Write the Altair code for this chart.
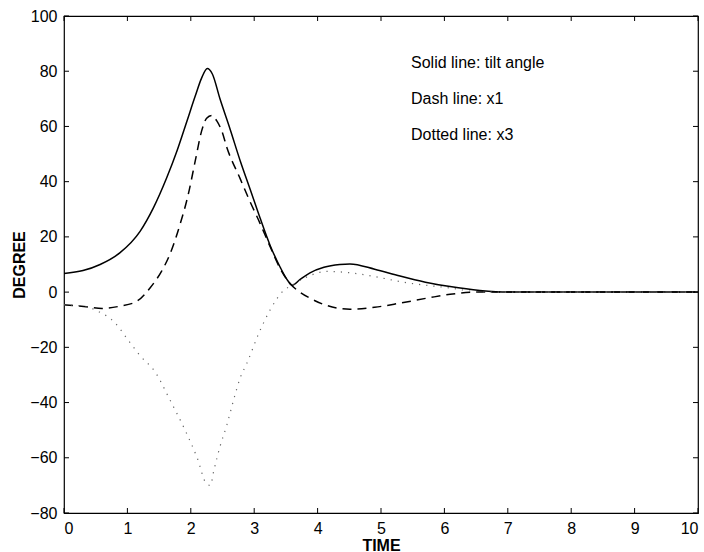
import altair as alt
import pandas as pd

# ---- data ----
solid_t = [0, 0.3, 0.57, 0.88, 1.2, 1.41, 1.62, 1.78, 1.94, 2.07, 2.17, 2.26, 2.34, 2.46, 2.62, 2.78,
           2.94, 3.09, 3.25, 3.41, 3.52, 3.6, 3.72, 3.88, 4.1, 4.35, 4.51, 4.9, 5.3, 5.7, 6.09, 6.56,
           7, 8, 9, 10]
solid_y = [6.7, 7.8, 10, 14.2, 22, 30.5, 41.4, 51, 62, 71, 77.5, 81, 79, 70, 59, 47.5,
           37, 27, 17, 9, 4.5, 2.5, 4.5, 7, 9, 10, 10.2, 8.3, 5.8, 3.6, 2, 0.6,
           0, 0, 0, 0]

dash_t = [0, 0.35, 0.6, 0.88, 1.15, 1.36, 1.54, 1.67, 1.83, 1.96, 2.07, 2.17, 2.25, 2.33, 2.41, 2.49,
          2.57, 2.78, 2.93, 3.09, 3.25, 3.41, 3.55, 3.72, 3.88, 4.1, 4.51, 4.9, 5.3, 5.77, 6.09, 6.51,
          7, 8, 9, 10]
dash_y = [-4.6, -5.3, -5.9, -5.1, -3.3, 1.6, 7.6, 13.7, 24.5, 35.4, 47.5, 58.3, 63, 64, 62, 58.3,
          52.3, 41, 33, 25, 16.5, 8.5, 3.5, 0, -2.2, -4.5, -6.2, -5.5, -4, -2, -0.8, 0,
          0, 0, 0, 0]

dot_t = [0, 0.35, 0.54, 0.8, 1.0, 1.2, 1.44, 1.67, 1.91, 2.1, 2.25, 2.31, 2.36, 2.46, 2.57, 2.67,
         2.78, 2.88, 3.09, 3.25, 3.46, 3.6, 3.88, 4.14, 4.51, 5.04, 5.3, 6.09, 6.6,
         7, 8, 9, 10]
dot_y = [-4.6, -5.3, -7, -11, -17, -23, -29, -39, -50, -60, -69.5, -70, -65, -56, -48, -39.5,
         -31, -26, -14, -6.5, 0.5, 2.5, 6, 7.5, 7, 5, 3.8, 1.5, 0,
         0, 0, 0, 0]

x_ticks = [0, 1, 2, 3, 4, 5, 6, 7, 8, 9, 10]
y_ticks = [-80, -60, -40, -20, 0, 20, 40, 60, 80, 100]
legend_labels = ["Solid line: tilt angle", "Dash line: x1", "Dotted line: x3"]

FONT = "Liberation Sans"
W, H = 634, 497

xs = alt.Scale(domain=[0, 10], nice=False, zero=False)
ys = alt.Scale(domain=[-80, 100], nice=False, zero=False)

def series(t, y):
    return pd.DataFrame({"t": t, "v": y})

x_enc = alt.X("t:Q", scale=xs,
              axis=alt.Axis(values=x_ticks, format="d", title="TIME", ticks=False, domain=False, grid=False,
                            labelFont=FONT, labelFontSize=16, labelColor="black", labelPadding=7,
                            titleFont=FONT, titleFontSize=16, titleFontWeight="bold", titleColor="black",
                            titleX=W / 2, titleY=24, titleBaseline="top"))
y_enc = alt.Y("v:Q", scale=ys,
              axis=alt.Axis(values=y_ticks, format="d", title="DEGREE", ticks=False, domain=False, grid=False,
                            labelFont=FONT, labelFontSize=16, labelColor="black", labelPadding=7,
                            titleFont=FONT, titleFontSize=16, titleFontWeight="bold", titleColor="black",
                            titleX=-45, titleY=H / 2, titleBaseline="middle", titleAngle=-90))

solid = alt.Chart(series(solid_t, solid_y)).mark_line(
    color="black", strokeWidth=1.5, interpolate="monotone").encode(x=x_enc, y=y_enc)
dashed = alt.Chart(series(dash_t, dash_y)).mark_line(
    color="black", strokeWidth=1.5, strokeDash=[9, 6], interpolate="monotone").encode(
    x=alt.X("t:Q", scale=xs), y=alt.Y("v:Q", scale=ys))
dotted = alt.Chart(series(dot_t, dot_y)).mark_line(
    color="#666666", strokeWidth=1.2, strokeDash=[1.2, 6], interpolate="monotone").encode(
    x=alt.X("t:Q", scale=xs), y=alt.Y("v:Q", scale=ys))

xt = pd.DataFrame({"t": x_ticks})
yt = pd.DataFrame({"v": y_ticks})
TL = 5
tick_layers = [
    alt.Chart(yt).mark_rule(color="black").encode(y=alt.Y("v:Q", scale=ys), x=alt.value(0), x2=alt.value(TL)),
    alt.Chart(yt).mark_rule(color="black").encode(y=alt.Y("v:Q", scale=ys), x=alt.value(W), x2=alt.value(W - TL)),
    alt.Chart(xt).mark_rule(color="black").encode(x=alt.X("t:Q", scale=xs), y=alt.value(H), y2=alt.value(H - TL)),
    alt.Chart(xt).mark_rule(color="black").encode(x=alt.X("t:Q", scale=xs), y=alt.value(0), y2=alt.value(TL)),
]

text_layers = []
for i, lab in enumerate(legend_labels):
    text_layers.append(
        alt.Chart(pd.DataFrame({"label": [lab]})).mark_text(
            align="left", baseline="alphabetic", font=FONT, fontSize=16, color="black"
        ).encode(text="label:N", x=alt.value(347), y=alt.value(52 + 36 * i))
    )

chart = alt.layer(solid, dashed, dotted, *tick_layers, *text_layers).properties(
    width=W, height=H,
    autosize=alt.AutoSizeParams(type="none"),
    padding={"left": 64, "top": 16, "right": 6, "bottom": 39},
    background="white",
).configure_view(stroke="black", strokeWidth=1.2)

chart.save("out.html", embed_options={"renderer": "svg", "actions": False})
